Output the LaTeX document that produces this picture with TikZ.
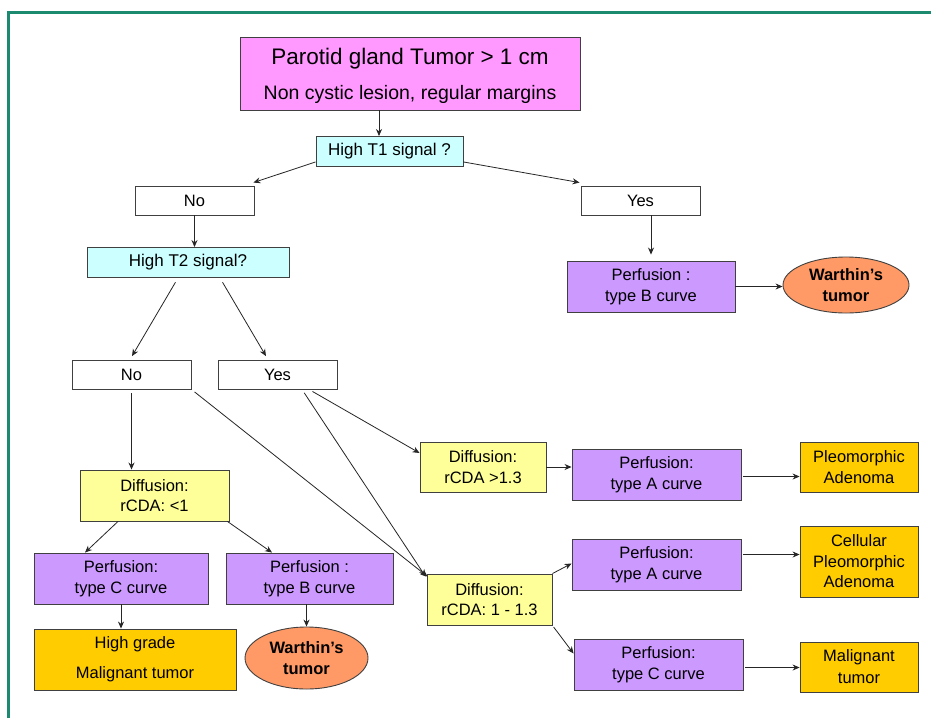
\documentclass[tikz,border=0pt]{standalone}
\usepackage{fontspec}
\setmainfont{Liberation Sans}
\usetikzlibrary{arrows.meta,shapes.geometric}
\definecolor{framegreen}{HTML}{1B8A6F}
\definecolor{pinkc}{HTML}{FF99FF}
\definecolor{cyanc}{HTML}{CCFFFF}
\definecolor{purplec}{HTML}{CC99FF}
\definecolor{orangec}{HTML}{FF9966}
\definecolor{goldc}{HTML}{FFCC00}
\definecolor{yellowc}{HTML}{FFFF99}
\definecolor{edgec}{HTML}{404040}
\begin{document}
\begin{tikzpicture}[x=1pt,y=-1pt,
  box/.style={draw=edgec, line width=0.9pt, inner sep=0pt, align=center,
    font=\fontsize{16.5}{20.5}\selectfont},
  wbox/.style={box, fill=white, minimum width=119pt, minimum height=29pt},
  qbox/.style={box, fill=cyanc, minimum height=30pt, font=\fontsize{17}{20}\selectfont},
  perf/.style={box, fill=purplec, minimum width=169pt, minimum height=51pt},
  diff/.style={box, fill=yellowc, minimum height=51pt},
  res/.style={box, fill=goldc, minimum width=118pt},
  oval/.style={ellipse, draw=edgec, line width=0.9pt, fill=orangec, inner sep=0pt, align=center,
    font=\fontsize{16.5}{20.5}\selectfont\bfseries},
  arr/.style={draw=black!85, line width=0.8pt, -{Stealth[length=7pt,width=6pt]}},
  ]
\useasboundingbox (0,0) rectangle (931,718);
\fill[white] (0,0) rectangle (931,718);
\draw[draw=framegreen, line width=3pt] (8,718) -- (8,12) -- (931,12);

% nodes
\node[box, fill=pinkc, minimum width=340pt, minimum height=73pt] (top) at (410,73.5)
  {\raisebox{-3.5pt}[\height][\depth]{\begin{tabular}{@{}c@{}}
   {\fontsize{22.5}{25}\selectfont Parotid gland Tumor > 1 cm}\\[15pt]
   {\fontsize{19.5}{22}\selectfont Non cystic lesion, regular margins}\end{tabular}}};
\node[qbox, minimum width=147pt] (t1) at (389.5,151.5) {High T1 signal ?};
\node[wbox] (no1) at (194.5,200.5) {No};
\node[wbox] (yes1) at (640.5,200.5) {Yes};
\node[qbox, minimum width=202pt] (t2) at (188,262.5) {High T2 signal?};
\node[perf, minimum width=168pt] (pb1) at (651,286.5) {Perfusion :\\type B curve};
\node[oval, minimum width=126pt, minimum height=56pt] (w1) at (846,285) {Warthin’s\\tumor};
\node[wbox] (no2) at (131.5,374.5) {No};
\node[wbox] (yes2) at (277.5,374.5) {Yes};
\node[diff, minimum width=149pt] (d1) at (154.5,495.5) {Diffusion:\\rCDA: <1};
\node[perf, minimum width=174pt] (pc1) at (121,578.5) {Perfusion:\\type C curve};
\node[perf, minimum width=167pt] (pb2) at (309.5,578.5) {Perfusion :\\type B curve};
\node[box, fill=goldc, minimum width=202pt, minimum height=61pt,
  font=\fontsize{16.5}{30}\selectfont] (hg) at (135,659.5) {High grade\\Malignant tumor};
\node[oval, minimum width=123pt, minimum height=62pt] (w2) at (306.5,658) {Warthin’s\\tumor};
\node[diff, minimum width=126pt, minimum height=50pt] (d2) at (483,467) {Diffusion:\\rCDA >1.3};
\node[perf] (pa1) at (656.5,474.5) {Perfusion:\\type A curve};
\node[res, minimum height=50pt] (pleo) at (859,467) {Pleomorphic\\Adenoma};
\node[diff, minimum width=125pt] (d3) at (489.5,599.5) {Diffusion:\\rCDA: 1 - 1.3};
\node[perf] (pa2) at (656.5,564.5) {Perfusion:\\type A curve};
\node[res, minimum height=71pt] (cell) at (859,561.5) {Cellular\\Pleomorphic\\Adenoma};
\node[perf] (pc2) at (658.5,664.5) {Perfusion:\\type C curve};
\node[res, minimum height=50pt, font=\fontsize{16.5}{22}\selectfont] (mal) at (859,667) {Malignant\\tumor};

% connectors
\draw[arr] ([xshift=-10.5pt]t1.north |- top.south) -- ([xshift=-10.5pt]t1.north);
\draw[arr] ([yshift=5pt]t1.south west) -- ([xshift=-1pt,yshift=3pt]no1.north east);
\draw[arr] ([yshift=5pt]t1.south east) -- ([xshift=-1pt,yshift=3pt]yes1.north west);
\draw[arr] (no1.south) -- (no1.south |- t2.north);
\draw[arr, shorten >=6pt] (pb1.north |- yes1.south) -- (pb1.north);
\draw[arr] (pb1.east) -- (pb1.east -| w1.west);
\draw[arr, shorten <=5pt, shorten >=4pt] ([xshift=-10pt]t2.south) -- ([xshift=-1.5pt]no2.north);
\draw[arr, shorten <=5pt, shorten >=4pt] ([xshift=32pt]t2.south) -- ([xshift=-9.5pt]yes2.north);
\draw[arr, shorten <=4pt] (no2.south) -- (no2.south |- d1.north);
\draw[arr, shorten <=4pt] (no2.south east) -- ([xshift=1pt,yshift=-3pt]d3.north west);
\draw[arr, shorten <=4pt] ([xshift=24.5pt]yes2.south) -- ([xshift=-1pt,yshift=-3pt]d3.north west);
\draw[arr, shorten <=4pt] ([xshift=31.5pt]yes2.south) -- ([yshift=14pt]d2.west);
\draw[arr] ([xshift=-36.5pt]d1.south) -- ([xshift=-36pt]pc1.north);
\draw[arr] ([xshift=-2pt]d1.south east) -- ([xshift=-37.5pt]pb2.north);
\draw[arr] (pc1.south) -- (pc1.south |- hg.north);
\draw[arr] (w2.north |- pb2.south) -- (w2.north);
\draw[arr] (d2.east) -- (d2.east -| pa1.west);
\draw[arr, shorten <=2pt] ([yshift=-2pt]pa1.east) -- ([yshift=-2pt]pa1.east -| pleo.west);
\draw[arr] (d3.north east) -- ([yshift=1pt]pa2.west);
\draw[arr, shorten <=2pt] ([yshift=10pt]pa2.east) -- ([yshift=10pt]pa2.east -| cell.west);
\draw[arr, shorten <=2pt] (d3.south east) -- ([yshift=11pt]pc2.west);
\draw[arr, shorten <=2pt] ([yshift=-3pt]pc2.east) -- ([yshift=-3pt]pc2.east -| mal.west);
\end{tikzpicture}
\end{document}
